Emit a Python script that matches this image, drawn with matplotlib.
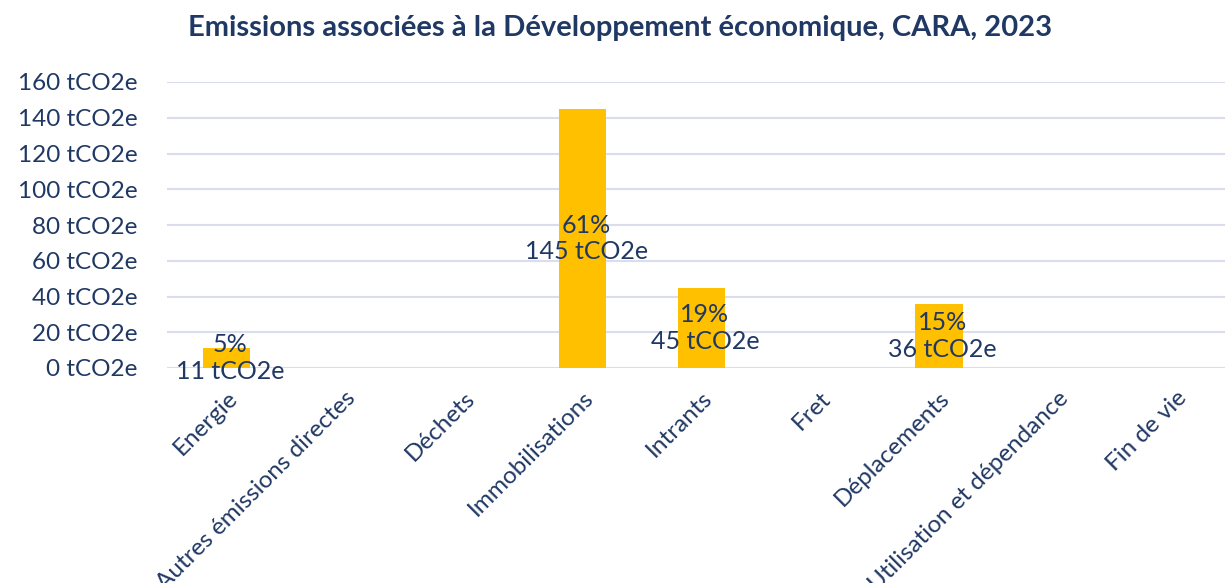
import numpy as np
import matplotlib.pyplot as plt

plt.rcParams['font.family'] = ['Lato', 'DejaVu Sans']

categories = ['Energie', 'Autres émissions directes', 'Déchets', 'Immobilisations',
              'Intrants', 'Fret', 'Déplacements', 'Utilisation et dépendance', 'Fin de vie']
values = [11, 0, 0, 145, 45, 0, 36, 0, 0]
shares = ['5%', '', '', '61%', '19%', '', '15%', '', '']
yticks = [0, 20, 40, 60, 80, 100, 120, 140, 160]

navy = '#203864'
gold = '#FFC000'
grid = '#D9DDEE'

fig = plt.figure(figsize=(12.25, 5.83), dpi=100)
ax = fig.add_axes([167 / 1225, 1 - 368 / 583, 1 - 167 / 1225, (368 - 82) / 583])

x = np.arange(len(categories))
ax.bar(x, values, width=0.4, color=gold, zorder=2)

# labels centred in the bar: share on top, value below
for xi, v, s in zip(x, values, shares):
    if v > 0:
        ax.text(xi + 0.03, v / 2, f'{s}\n{v} tCO2e', ha='center', va='center',
                fontsize=18, color=navy, linespacing=1.2, zorder=3)

ax.set_xlim(-0.5, 8.41)
ax.set_ylim(0, 160)
ax.set_yticks(yticks)
ax.set_yticklabels([f'{t} tCO2e' for t in yticks], fontsize=17.5, color=navy)
ax.set_xticks(x)
ax.set_xticklabels(categories, rotation=45, ha='right', rotation_mode='anchor',
                   fontsize=17.5, color=navy)
ax.tick_params(length=0)
ax.tick_params(axis='y', pad=21)
ax.tick_params(axis='x', pad=14)
ax.yaxis.grid(True, color=grid, linewidth=1.5, zorder=0)
ax.set_axisbelow(True)
for sp in ax.spines.values():
    sp.set_visible(False)

fig.text(620 / 1225, 1 - 28 / 583, 'Emissions associées à la Développement économique, CARA, 2023',
         ha='center', va='center', fontsize=21, fontweight='bold', color=navy)

fig.savefig('out.png', dpi=100)
